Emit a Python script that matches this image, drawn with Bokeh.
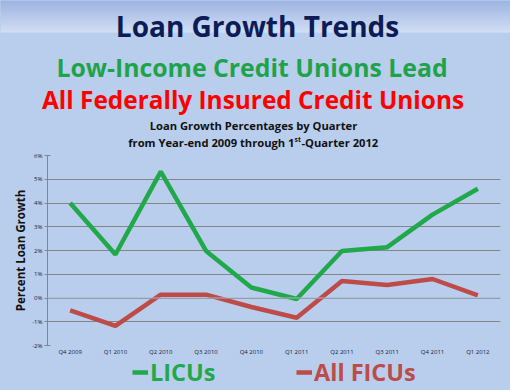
from bokeh.plotting import figure
from bokeh.models import Range1d, FactorRange, Span, Legend, LegendItem, PrintfTickFormatter, FixedTicker
from bokeh.layouts import column
from bokeh.embed import file_html
from bokeh.resources import INLINE
from bokeh.core.properties import value

# ---------------- data ----------------
quarters = ["Q4 2009", "Q1 2010", "Q2 2010", "Q3 2010", "Q4 2010",
            "Q1 2011", "Q2 2011", "Q3 2011", "Q4 2011", "Q1 2012"]
licu = [4.0, 1.83, 5.32, 1.98, 0.44, -0.04, 1.98, 2.14, 3.51, 4.6]
ficu = [-0.52, -1.17, 0.14, 0.14, -0.38, -0.83, 0.72, 0.55, 0.80, 0.11]
y_ticks = [-2, -1, 0, 1, 2, 3, 4, 5, 6]
series_names = ["LICUs", "All FICUs"]

title_text = "Loan Growth Trends"
head_green = "Low-Income Credit Unions Lead"
head_red = "All Federally Insured Credit Unions"
sub1 = "Loan Growth Percentages by Quarter"
sub2a = "from Year-end 2009 through 1"
sub2b = "st"
sub2c = "-Quarter 2012"

BG = "#B9CEEC"
GREEN = "#20A84A"
RED = "#BE4B48"
FONT = "Open Sans"
W = 510
NAN = float("nan")
STY = {"background-color": BG}

def blank(h):
    f = figure(width=W, height=h, x_range=Range1d(0, W), y_range=Range1d(h, 0),
               x_axis_type=None, y_axis_type=None, toolbar_location=None, title=None,
               output_backend="svg", min_border=0, frame_align=False, styles=STY)
    f.outline_line_color = None
    f.background_fill_color = None
    f.border_fill_color = None
    f.grid.visible = False
    return f

# ---------------- heading figure ----------------
HEAD_H = 150
head = blank(HEAD_H)

def mix(c1, c2, t):
    a = [int(c1[i:i+2], 16) for i in (1, 3, 5)]
    b = [int(c2[i:i+2], 16) for i in (1, 3, 5)]
    return "#%02x%02x%02x" % tuple(int(round(a[k] + (b[k] - a[k]) * t)) for k in range(3))
n = 32
head.quad(left=0, right=W, top=list(range(n)), bottom=[i + 1 for i in range(n)],
          fill_color=[mix("#94AADF", "#D8E2F4", i / (n - 1)) for i in range(n)], line_color=None)

def htext(x, y, t, size, color, align="center", baseline="alphabetic"):
    head.text(x=[x], y=[y], text=[t], text_font=value(FONT), text_font_style="bold",
              text_font_size=size, text_color=color, text_align=align, text_baseline=baseline)

htext(257, 25, title_text, "28px", "#0C1C57")
htext(251.5, 66, head_green, "24.8px", "#1FA34A")
htext(252.5, 99, head_red, "24.4px", "#FF0000")
htext(253, 125, sub1, "11.2px", "#111111", baseline="middle")
htext(294, 142, sub2a, "11.2px", "#111111", align="right", baseline="middle")
htext(294, 139, sub2b, "6.8px", "#111111", align="left", baseline="middle")
htext(301, 142, sub2c, "11.2px", "#111111", align="left", baseline="middle")

# ---------------- chart figure ----------------
CH_H = 208
p = figure(width=W, height=CH_H, x_range=FactorRange(*quarters), y_range=Range1d(-2, 6),
           toolbar_location=None, output_backend="svg", frame_align=False, styles=STY, title=None,
           min_border_top=5, min_border_left=47, min_border_right=10, min_border_bottom=11)
p.background_fill_color = None
p.border_fill_color = None
p.outline_line_color = None

p.xgrid.visible = False
p.ygrid.grid_line_color = "#858585"
p.ygrid.grid_line_width = 1
p.ygrid.ticker = FixedTicker(ticks=y_ticks)

p.yaxis.ticker = FixedTicker(ticks=y_ticks)
p.yaxis.formatter = PrintfTickFormatter(format="%d%%")
p.yaxis.axis_line_color = "#858585"
p.yaxis.major_tick_line_color = "#858585"
p.yaxis.major_tick_in = 3
p.yaxis.major_tick_out = 3
p.yaxis.minor_tick_line_color = None
p.yaxis.minor_tick_out = 0
p.yaxis.major_label_text_font = FONT
p.yaxis.major_label_text_font_size = "6px"
p.yaxis.major_label_text_color = "#1A1A3A"
p.yaxis.major_label_standoff = 2
p.yaxis.axis_label = "Percent Loan Growth"
p.yaxis.axis_label_text_font = FONT
p.yaxis.axis_label_text_font_style = "bold"
p.yaxis.axis_label_text_font_size = "11.5px"
p.yaxis.axis_label_text_color = "#111111"
p.yaxis.axis_label_standoff = 1

p.xaxis.axis_line_color = None
p.xaxis.major_tick_line_color = None
p.xaxis.minor_tick_line_color = None
p.xaxis.major_tick_in = 0
p.xaxis.major_tick_out = 0
p.xaxis.minor_tick_out = 0
p.xaxis.major_label_text_font = FONT
p.xaxis.major_label_text_font_size = "6px"
p.xaxis.major_label_text_color = "#1A1A3A"
p.xaxis.major_label_standoff = 2

p.add_layout(Span(location=0, dimension="width", line_color="#A9B6C9", line_width=1))

p.line(quarters, licu, line_color=GREEN, line_width=4.5)
p.line(quarters, ficu, line_color=RED, line_width=4.5)

# ---------------- legend row ----------------
FOOT_H = 390 - HEAD_H - CH_H
foot = blank(FOOT_H)
for name, col, vx in [(series_names[0], GREEN, 132), (series_names[1], RED, 296)]:
    r = foot.line(x=[NAN, NAN], y=[NAN, NAN], line_color=col, line_width=4.5)
    lg = Legend(items=[LegendItem(label=name, renderers=[r])], location=(vx, 2),
                orientation="horizontal", background_fill_alpha=0, border_line_color=None,
                padding=0, margin=0, spacing=0, glyph_width=16, glyph_height=24,
                label_standoff=2, label_text_font=FONT, label_text_font_style="bold",
                label_text_font_size="23.5px", label_text_color=col, label_height=24)
    foot.add_layout(lg, "center")

layout = column(head, p, foot, spacing=0, styles=STY)
html = file_html(layout, INLINE)
html = html.replace("</head>", "<style>html,body{margin:0;padding:0;background:%s}</style></head>" % BG, 1)
open("out.html", "w").write(html)
